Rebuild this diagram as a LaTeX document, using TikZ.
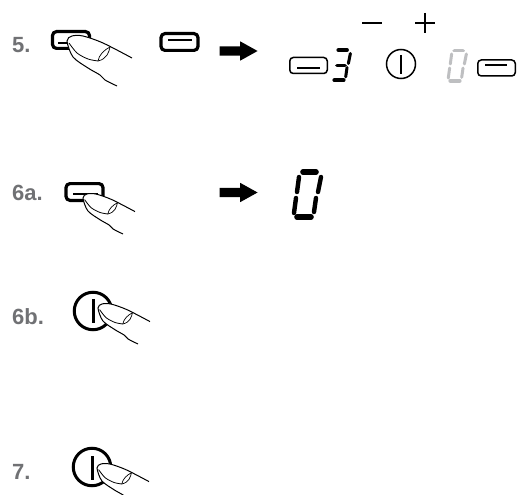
\documentclass[tikz,border=0pt]{standalone}
\usepackage{fontspec}
\setmainfont{Liberation Sans}
\usetikzlibrary{shapes.arrows}
\definecolor{labelgray}{HTML}{707174}
\definecolor{seggray}{HTML}{BEBFC1}

\begin{document}
\begin{tikzpicture}[x=1pt,y=-1pt]
  % styles
  \tikzstyle{steplabel}=[anchor=west, inner sep=0pt, text=labelgray, font=\fontsize{22}{22}\selectfont\bfseries]
  \tikzstyle{keybold}=[rectangle, rounded corners=4pt, draw=black, line width=3.2pt, inner sep=0pt, minimum width=37pt, minimum height=16.8pt]
  \tikzstyle{keythin}=[rectangle, rounded corners=3.5pt, draw=black, line width=1.5pt, inner sep=0pt, minimum width=37.5pt, minimum height=16pt]
  \tikzstyle{powerbold}=[circle, draw=black, line width=3pt, inner sep=0pt, minimum size=37.5pt]
  \tikzstyle{powerthin}=[circle, draw=black, line width=1.5pt, inner sep=0pt, minimum size=29pt]
  \tikzstyle{blockarrow}=[single arrow, fill=black, inner xsep=0pt, inner ysep=4.5pt, minimum height=38pt, single arrow head extend=5pt, single arrow tip angle=58, single arrow head indent=0pt, anchor=tip]
  \tikzstyle{segh}=[line width=5.6pt, line cap=round]
  \tikzstyle{segv}=[line width=4.4pt, line cap=round]
  \tikzset{
    smallseg/.style={scale=.67, segh/.style={line width=3.8pt, line cap=round}, segv/.style={line width=3pt, line cap=round}},
    pics/digitzero/.style={code={
      \draw[segh] (-4,-23) -- (9,-23);
      \draw[segv] (14,-18) -- (11,-3);
      \draw[segv] (9,3) -- (7,17);
      \draw[segh] (-10,22) -- (4,22);
      \draw[segv] (-13,18) -- (-11,3);
      \draw[segv] (-10,-3) -- (-8,-18);
    }},
    pics/digitthree/.style={code={
      \draw[segh] (-4,-23) -- (9,-23);
      \draw[segv] (14,-18) -- (11,-3);
      \draw[segh] (-6,0) -- (6,0);
      \draw[segv] (9,3) -- (7,17);
      \draw[segh] (-10,22) -- (4,22);
    }},
    pics/fingertip/.style={code={
      \draw[fill=white, line width=1pt] plot[smooth] coordinates {(65,17) (36,2) (16,-5) (5,-5) (0,0) (6,16) (21,27) (33,34) (38,39) (50,45)};
      \draw[line width=.8pt] plot[smooth] coordinates {(2,2) (10,12) (21,18) (31,20)};
      \draw[line width=.7pt] (31,20) .. controls (40,18) and (42,11) .. (43,6);
      \draw[line width=.7pt] (31,20) .. controls (32,14) and (37,9) .. (43,6);
    }}
  }

  \useasboundingbox (0,0) rectangle (520,495);

  % step labels
  \node (label5) [steplabel] at (12,45) {5.};
  \node (label6a) [steplabel] at (12,193) {6a.};
  \node (label6b) [steplabel] at (12,317) {6b.};
  \node (label7) [steplabel] at (12,472) {7.};

  % keys
  \node (key5) [keybold] at (71,40) {};
  \draw[line width=2.2pt] (58,43) -- (72,43);
  \node (key5b) [keybold] at (179.5,42) {};
  \draw[line width=2.2pt] (168,40) -- (192,40);
  \node (key6a) [keybold] at (84.5,192) {};
  \draw[line width=2.2pt] (73,194) -- (98,194);
  \node (keyminus) [keythin] at (308.5,65.5) {};
  \draw[line width=1.4pt] (297,68) -- (320,68);
  \node (keyplus) [keythin] at (496.5,68) {};
  \draw[line width=1.4pt] (485,65) -- (507,65);

  % minus and plus
  \draw[line width=1.7pt] (362,23) -- (382,23);
  \draw[line width=1.7pt] (415,23) -- (435,23);
  \draw[line width=1.7pt] (425,13) -- (425,33);

  % power buttons
  \node (power) [powerthin] at (401,64) {};
  \draw[line width=1.3pt] (401,55) -- (401,74);
  \node (power6b) [powerbold] at (93,311) {};
  \draw[line width=3pt] (93,299) -- (93,323);
  \node (power7) [powerbold] at (92,467) {};
  \draw[line width=3pt] (92,456) -- (92,480);

  % arrows
  \node (arrow5) [blockarrow] at (258,51) {};
  \node (arrow6a) [blockarrow] at (258,192.5) {};

  % digits
  \pic (three) [smallseg] at (341,65.5) {digitthree};
  \pic (zerogray) [smallseg, seggray] at (457,66) {digitzero};
  \pic (zero) at (307,195) {digitzero};

  % fingers
  \pic (finger5) at (67,41) {fingertip};
  \pic (finger6a) [scale=.8] at (83,198) {fingertip};
  \pic (finger6b) [scale=.8] at (98,308) {fingertip};
  \pic (finger7) [scale=.8] at (97,468) {fingertip};
\end{tikzpicture}
\end{document}
